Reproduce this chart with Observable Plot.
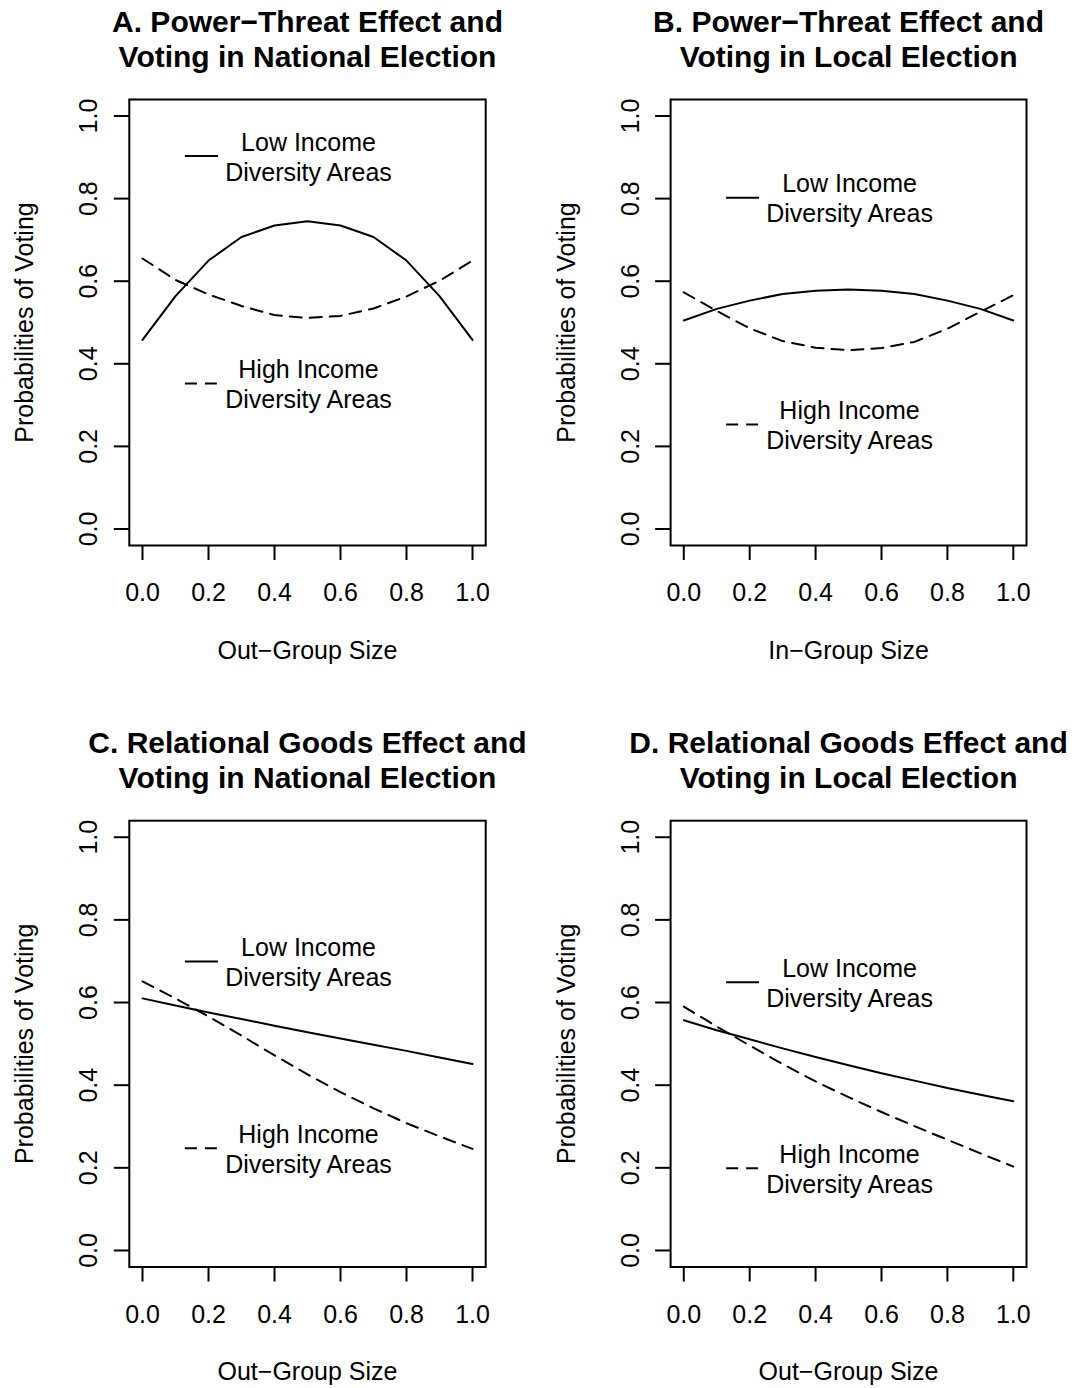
<!DOCTYPE html>
<html>
<head>
<meta charset="utf-8">
<script src="https://cdn.jsdelivr.net/npm/d3@7"></script>
<script src="https://cdn.jsdelivr.net/npm/@observablehq/plot@0.6"></script>
<style>
  html, body { margin: 0; padding: 0; background: #fff; }
  #chart { position: relative; width: 1075px; height: 1388px; background: #fff; }
  #chart > div { position: absolute; }
</style>
</head>
<body>
<div id="chart"></div>
<script>
// ---- data ----
const xGrid = [0.0, 0.1, 0.2, 0.3, 0.4, 0.5, 0.6, 0.7, 0.8, 0.9, 1.0];

const aLow  = [0.458, 0.564, 0.650, 0.707, 0.735, 0.745, 0.735, 0.707, 0.650, 0.564, 0.458];
const aHigh = [0.655, 0.603, 0.568, 0.540, 0.518, 0.511, 0.516, 0.534, 0.563, 0.601, 0.650];

const bLow  = [0.505, 0.533, 0.553, 0.569, 0.577, 0.580, 0.577, 0.569, 0.553, 0.533, 0.505];
const bHigh = [0.573, 0.528, 0.486, 0.455, 0.439, 0.433, 0.438, 0.453, 0.485, 0.526, 0.566];

const cLow  = [0.610, 0.593, 0.576, 0.560, 0.544, 0.528, 0.513, 0.498, 0.483, 0.467, 0.451];
const cHigh = [0.651, 0.610, 0.566, 0.520, 0.472, 0.426, 0.383, 0.344, 0.308, 0.276, 0.246];

const dLow  = [0.557, 0.533, 0.511, 0.489, 0.468, 0.448, 0.429, 0.411, 0.393, 0.377, 0.361];
const dHigh = [0.590, 0.542, 0.496, 0.451, 0.409, 0.371, 0.335, 0.301, 0.268, 0.235, 0.203];

const titles = [
  "A. Power\u2212Threat Effect and\nVoting in National Election",
  "B. Power\u2212Threat Effect and\nVoting in Local Election",
  "C. Relational Goods Effect and\nVoting in National Election",
  "D. Relational Goods Effect and\nVoting in Local Election"
];
const xLabels = ["Out\u2212Group Size", "In\u2212Group Size", "Out\u2212Group Size", "Out\u2212Group Size"];
const yLabel = "Probabilities of Voting";
const legendLabels = ["Low Income\nDiversity Areas", "High Income\nDiversity Areas"];
const xTicks = [0, 0.2, 0.4, 0.6, 0.8, 1.0];
const yTicks = [0, 0.2, 0.4, 0.6, 0.8, 1.0];

// legend anchor positions (data units) per panel: [low, high]
const legendY = [[0.903, 0.352], [0.802, 0.253], [0.699, 0.2475], [0.649, 0.199]];

// ---- layout ----
const FONT = "'Liberation Sans', Arial, Helvetica, sans-serif";
const panels = [
  {low: aLow, high: aHigh, left: 0,   top: 0,   width: 537, ml: 128.8, mr: 51.8, mt: 99,    mb: 149},
  {low: bLow, high: bHigh, left: 537, top: 0,   width: 538, ml: 133.1, mr: 49,   mt: 99,    mb: 149},
  {low: cLow, high: cHigh, left: 0,   top: 694, width: 537, ml: 128.8, mr: 51.8, mt: 126.2, mb: 121.5},
  {low: dLow, high: dHigh, left: 537, top: 694, width: 538, ml: 133.1, mr: 49,   mt: 126.2, mb: 121.5}
];

const fmt = d3.format(".1f");
const chart = document.getElementById("chart");

panels.forEach((p, i) => {
  const lowRows = xGrid.map((x, j) => ({x, y: p.low[j]}));
  const highRows = xGrid.map((x, j) => ({x, y: p.high[j]}));
  const legRows = [
    {y: legendY[i][0], label: legendLabels[0]},
    {y: legendY[i][1], label: legendLabels[1]}
  ];

  const svg = Plot.plot({
    width: p.width,
    height: 694,
    marginLeft: p.ml,
    marginRight: p.mr,
    marginTop: p.mt,
    marginBottom: p.mb,
    style: {fontFamily: FONT, fontSize: "25px", color: "#000", background: "#fff"},
    x: {domain: [-0.04, 1.04], axis: null},
    y: {domain: [-0.04, 1.04], axis: null},
    marks: [
      Plot.frame({stroke: "#000", strokeWidth: 2}),
      Plot.axisX({ticks: xTicks, tickSize: 15, tickPadding: 23, tickFormat: fmt, label: null, strokeWidth: 2, fill: "#000"}),
      Plot.axisY({ticks: yTicks, tickSize: 15, tickFormat: () => "", label: null, strokeWidth: 2}),
      Plot.text(yTicks, {y: d => d, frameAnchor: "left", dx: -40, rotate: -90, text: d => fmt(d), textAnchor: "middle", lineAnchor: "middle", fill: "#000"}),
      Plot.text([yLabel], {frameAnchor: "left", dx: -104, rotate: -90, text: d => d, textAnchor: "middle", lineAnchor: "middle", fill: "#000"}),
      Plot.text([xLabels[i]], {frameAnchor: "bottom", dy: 105, text: d => d, textAnchor: "middle", lineAnchor: "middle", fill: "#000"}),
      Plot.text([titles[i]], {frameAnchor: "top", dy: -61, text: d => d, fontSize: 30, fontWeight: "bold", lineHeight: 1.17, textAnchor: "middle", lineAnchor: "middle", fill: "#000"}),
      Plot.line(lowRows, {x: "x", y: "y", stroke: "#000", strokeWidth: 2}),
      Plot.line(highRows, {x: "x", y: "y", stroke: "#000", strokeWidth: 2, strokeDasharray: "12,8"}),
      Plot.ruleY(legRows.slice(0, 1), {y: "y", x1: () => 0.13, x2: () => 0.23, stroke: "#000", strokeWidth: 2}),
      Plot.ruleY(legRows.slice(1), {y: "y", x1: () => 0.13, x2: () => 0.23, stroke: "#000", strokeWidth: 2, strokeDasharray: "12,8"}),
      Plot.text(legRows, {x: () => 0.503, y: "y", text: "label", lineHeight: 1.2, textAnchor: "middle", lineAnchor: "middle", fill: "#000"})
    ]
  });

  const holder = document.createElement("div");
  holder.style.left = p.left + "px";
  holder.style.top = p.top + "px";
  holder.appendChild(svg);
  chart.appendChild(holder);
});
</script>
</body>
</html>
